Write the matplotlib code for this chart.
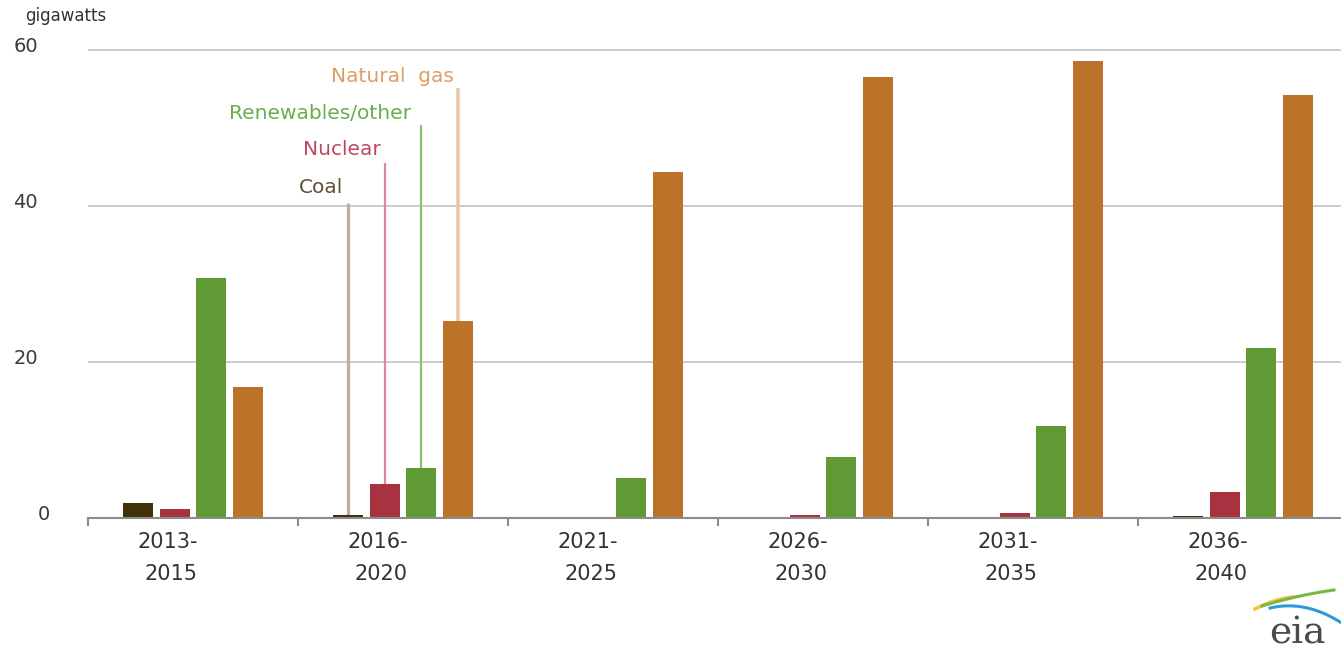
import numpy as np
import matplotlib
matplotlib.use("Agg")
import matplotlib.pyplot as plt
from matplotlib.transforms import ScaledTranslation

# === Data (gigawatts of capacity additions) ===
periods = ["2013-\n2015", "2016-\n2020", "2021-\n2025", "2026-\n2030", "2031-\n2035", "2036-\n2040"]
coal = [1.9, 0.35, 0.0, 0.0, 0.0, 0.2]
nuclear = [1.1, 4.3, 0.0, 0.35, 0.65, 3.3]
renewables = [30.7, 6.4, 5.05, 7.8, 11.8, 21.8]
natural_gas = [16.7, 25.2, 44.3, 56.5, 58.6, 54.2]

series_names = ["Coal", "Nuclear", "Renewables/other", "Natural  gas"]
label_heights = [41.6, 46.5, 51.1, 55.9]   # baseline of the callout text
leader_tops = [40.3, 45.5, 50.3, 55.05]
yticks = [0, 20, 40, 60]

bar_colors = ["#3f3207", "#a8323f", "#5f9a34", "#bd722a"]
text_colors = ["#5e5233", "#bf4660", "#6bad4a", "#de9d66"]
line_colors = ["#b8af9e", "#d98b9a", "#8dc26c", "#efc6a2"]
line_widths = [2.4, 1.6, 1.6, 2.6]
text_gaps = [5, 4, 10, 4]   # px between callout text and its leader line

W, H = 1341, 652
fig = plt.figure(figsize=(W / 100, H / 100), dpi=100)
ymax = 61
ax = fig.add_axes([88 / W, 134.3 / H, 1260 / W, ymax * 7.8 / H])

x = np.arange(len(periods))
stride = 36.7 / 210
width = 30 / 210
all_series = [coal, nuclear, renewables, natural_gas]
for k, (vals, col) in enumerate(zip(all_series, bar_colors)):
    ax.bar(x + (k - 1.5) * stride, vals, width=width, color=col, zorder=3)

# callout labels on the 2016-2020 group
for k, name in enumerate(series_names):
    xc = 1 + (k - 1.5) * stride
    ax.plot([xc, xc], [all_series[k][1], leader_tops[k]], color=line_colors[k],
            lw=line_widths[k], zorder=2, solid_capstyle="butt")
    ax.text(xc - text_gaps[k] / 210, label_heights[k], name, color=text_colors[k], fontsize=14.5,
            ha="right", va="baseline")

ax.set_xlim(-0.5, 5.5)
ax.set_ylim(0, ymax)

# axes styling
for s in ["left", "top", "right"]:
    ax.spines[s].set_visible(False)
ax.spines["bottom"].set_color("#8c8c8c")
ax.spines["bottom"].set_linewidth(1.5)
ax.spines["bottom"].set_zorder(4)

ax.set_yticks(yticks)
ax.set_yticklabels([str(v) for v in yticks], fontsize=14, color="#3a3a3a")
ax.tick_params(axis="y", length=0, pad=36)
ax.yaxis.grid(True, color="#c8c8c8", lw=1.3, zorder=0)
for lab, v in zip(ax.get_yticklabels(), yticks):
    dx = 12 / 100 if v == 0 else 0
    lab.set_transform(lab.get_transform() + ScaledTranslation(dx, 5 / 100, fig.dpi_scale_trans))

ax.set_xticks(np.arange(-0.5, 6, 1.0))
ax.set_xticklabels([])
ax.tick_params(axis="x", which="major", length=6, width=1.5, color="#8c8c8c", direction="out")
ax.set_xticks(x, minor=True)
ax.set_xticklabels(periods, minor=True, fontsize=15, color="#333333", ha="right",
                   multialignment="right", linespacing=1.8)
ax.tick_params(axis="x", which="minor", length=0, pad=10)
for lab in ax.get_xticklabels(minor=True):
    lab.set_transform(lab.get_transform() + ScaledTranslation(5 / 100, 0, fig.dpi_scale_trans))

fig.text(25 / W, 1 - 21 / H, "gigawatts", fontsize=12, color="#333333", va="baseline")

# eia logo
fig.text(1297 / W, 1 - 644 / H, "eia", family="DejaVu Serif", fontsize=27, color="#4a4a4a",
         ha="center", va="baseline")
lax = fig.add_axes([1240 / W, 0, 101 / W, 80 / H])
lax.set_xlim(1240, 1341)
lax.set_ylim(652, 572)
lax.axis("off")
t = np.linspace(0, 1, 50)
lax.plot(1255 + 38 * t, 609 - 20 * t + 8 * t ** 2, color="#f2c830", lw=2.5)
lax.plot(1262 + 72 * t, 606 - 22 * t + 6 * t ** 2, color="#7ab648", lw=2.2)
lax.plot(1270 + 70 * t, 608 - 16 * t + 30 * t ** 2, color="#2e9ad6", lw=2.2)

fig.savefig("out.png", dpi=100)
